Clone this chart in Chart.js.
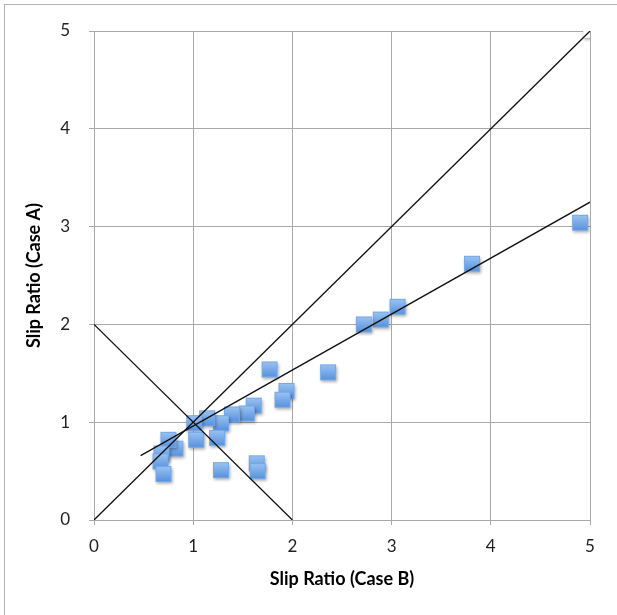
<!DOCTYPE html>
<html>
<head>
<meta charset="utf-8">
<script src="https://cdn.jsdelivr.net/npm/chart.js@4/dist/chart.umd.min.js"></script>
<style>
  html, body { margin: 0; padding: 0; background: #fff; overflow: hidden; }
  #wrap { position: relative; width: 617px; height: 615px; }
  #frame { position: absolute; left: 4px; top: 4px; width: 700px; height: 700px; border: 1px solid #b4b4b4; box-sizing: border-box; }
  #c { position: absolute; left: 0; top: 0; }
</style>
</head>
<body>
<div id="wrap">
  <div id="frame"></div>
  <canvas id="c" width="617" height="615"></canvas>
</div>
<script>
// Measured slip ratios, case B (x) against case A (y)
const slipRatioB = [4.90, 3.81, 3.06, 2.89, 2.72, 2.36, 1.77, 1.94, 1.90, 1.61, 1.54, 1.39, 1.28, 1.24, 1.14, 1.01, 1.03, 1.28, 1.64, 1.65, 0.82, 0.75, 0.68, 0.67, 0.70];
const slipRatioA = [3.04, 2.62, 2.18, 2.05, 2.00, 1.51, 1.54, 1.32, 1.23, 1.17, 1.09, 1.08, 0.99, 0.84, 1.04, 0.99, 0.82, 0.51, 0.58, 0.50, 0.73, 0.82, 0.68, 0.60, 0.47];

// Linear trend line fitted to the measurements
const trendSlope = 0.572;
const trendIntercept = 0.39;
const trendRange = [0.47, 5];

// Reference lines: parity line y = x and the line x + y = 2
const parityX = [0, 5];
const parityY = [0, 5];
const sumTwoX = [0, 2];
const sumTwoY = [2, 0];

// Axis ticks
const axisTicks = [0, 1, 2, 3, 4, 5];

const toPoints = (xs, ys) => xs.map((x, i) => ({ x: x, y: ys[i] }));

// Square marker sprite with a vertical gradient and a soft drop shadow
function makeMarker(top, bottom, edge, side) {
  const c = document.createElement('canvas');
  c.width = 24; c.height = 24;
  const g = c.getContext('2d');
  const o = (24 - side) / 2;
  g.save();
  g.shadowColor = 'rgba(0,0,0,0.35)';
  g.shadowBlur = 3;
  g.shadowOffsetX = 1;
  g.shadowOffsetY = 1.5;
  const grad = g.createLinearGradient(0, o, 0, o + side);
  grad.addColorStop(0, top);
  grad.addColorStop(1, bottom);
  g.fillStyle = grad;
  g.fillRect(o, o, side, side);
  g.restore();
  g.strokeStyle = edge;
  g.lineWidth = 1;
  g.strokeRect(o + 0.5, o + 0.5, side - 1, side - 1);
  return c;
}
const blueSquare = makeMarker('#9cc4f2', '#5590dd', '#74a8e8', 16);
const whiteSquare = makeMarker('#ffffff', '#ffffff', '#f2f2f2', 14);

const gridColor = '#a9a9a9';
const tickFont = { family: 'Lato, "Open Sans", sans-serif', size: 17 };
const titleFont = { family: 'Lato, "Open Sans", sans-serif', size: 18, weight: 'bold' };

new Chart(document.getElementById('c'), {
  type: 'scatter',
  data: {
    datasets: [
      {
        label: 'Trend',
        type: 'line',
        data: trendRange.map(x => ({ x: x, y: trendSlope * x + trendIntercept })),
        borderColor: '#111',
        borderWidth: 1.3,
        pointRadius: 0,
        fill: false,
        order: 1
      },
      {
        label: 'y = x',
        type: 'line',
        data: toPoints(parityX, parityY),
        borderColor: '#111',
        borderWidth: 1.3,
        pointRadius: 0,
        fill: false,
        order: 2
      },
      {
        label: 'x + y = 2',
        type: 'line',
        data: toPoints(sumTwoX, sumTwoY),
        borderColor: '#111',
        borderWidth: 1.3,
        pointRadius: 0,
        fill: false,
        order: 3
      },
      {
        label: 'y = x end',
        data: toPoints(parityX.slice(-1), parityY.slice(-1)),
        pointStyle: whiteSquare,
        pointRadius: 8,
        order: 5
      },
      {
        label: 'Slip Ratio',
        data: toPoints(slipRatioB, slipRatioA),
        pointStyle: blueSquare,
        pointRadius: 8,
        pointHoverRadius: 8,
        order: 4
      }
    ]
  },
  options: {
    responsive: false,
    devicePixelRatio: 1,
    animation: false,
    layout: { padding: { left: 18, right: 27, top: 31, bottom: 20 } },
    plugins: { legend: { display: false }, tooltip: { enabled: false } },
    scales: {
      x: {
        type: 'linear',
        min: 0, max: 5,
        afterBuildTicks: s => { s.ticks = axisTicks.map(v => ({ value: v })); },
        afterFit: s => { s.height = 75; },
        grid: { color: gridColor, lineWidth: 1, tickLength: 5, drawTicks: true },
        border: { color: gridColor, width: 1 },
        ticks: { color: '#222', font: tickFont, padding: 11, maxRotation: 0 },
        title: { display: true, text: 'Slip Ratio (Case B)', color: '#000', font: titleFont, padding: { top: 0, bottom: 5 } }
      },
      y: {
        type: 'linear',
        min: 0, max: 5,
        afterBuildTicks: s => { s.ticks = axisTicks.map(v => ({ value: v })); },
        afterFit: s => { s.width = 76; },
        grid: { color: gridColor, lineWidth: 1, tickLength: 5, drawTicks: true },
        border: { color: gridColor, width: 1 },
        ticks: { color: '#222', font: tickFont, padding: 19 },
        title: { display: true, text: 'Slip Ratio (Case A)', color: '#000', font: titleFont, padding: { top: 5, bottom: 0 } }
      }
    }
  }
});
</script>
</body>
</html>
